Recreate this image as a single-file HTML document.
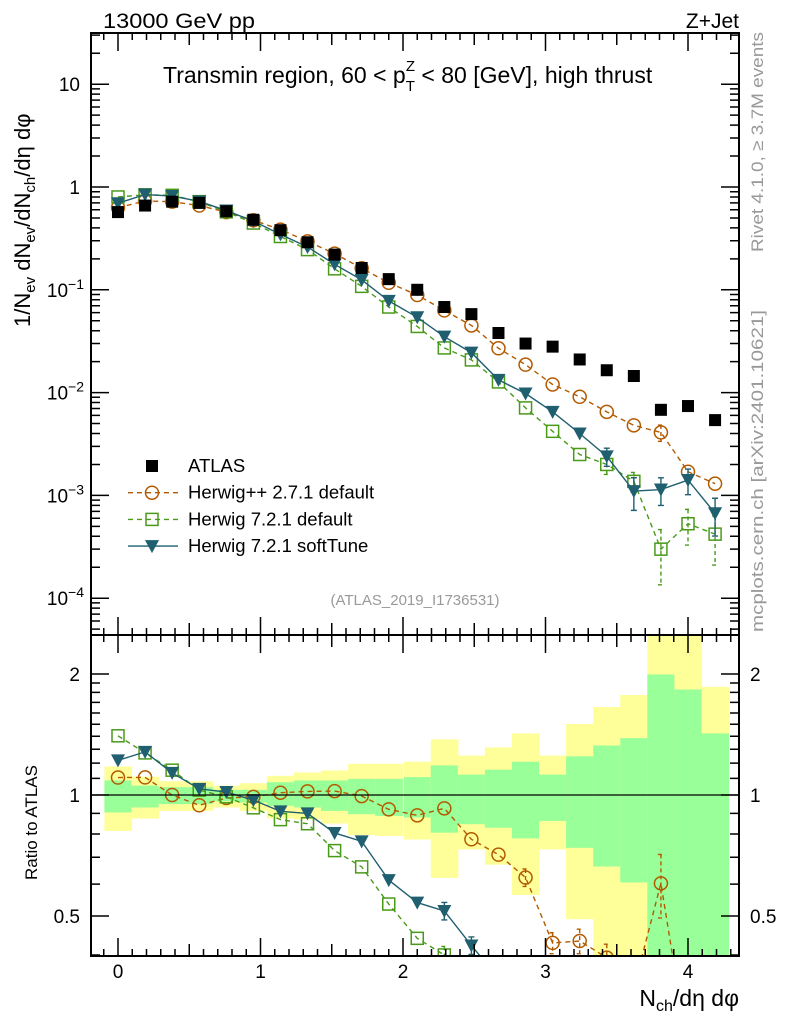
<!DOCTYPE html>
<html><head><meta charset="utf-8"><style>
html,body{margin:0;background:#fff;overflow:hidden;width:786px;height:1024px}
svg{display:block;font-family:"Liberation Sans",sans-serif}
</style></head><body>
<svg id="chart" width="786" height="1024" viewBox="0 0 786 1024" xmlns="http://www.w3.org/2000/svg">
<defs>
<clipPath id="clipMain"><rect x="91" y="33" width="648" height="602"/></clipPath>
<clipPath id="clipRatio"><rect x="91" y="635" width="648" height="321"/></clipPath>
</defs>
<g id="bands" clip-path="url(#clipRatio)"></g>
<g id="ratioMarks" clip-path="url(#clipRatio)"></g>
<g id="mainMarks" clip-path="url(#clipMain)"></g>
<g id="axes"></g>
<text x="103" y="28" font-size="21" textLength="152" lengthAdjust="spacingAndGlyphs">13000 GeV pp</text>
<text x="739" y="28" font-size="21" text-anchor="end">Z+Jet</text>
<text x="163" y="83" font-size="23">Transmin region, 60 &lt; p<tspan font-size="15" dy="8">T</tspan><tspan font-size="15" dx="-9" dy="-20">Z</tspan><tspan dy="12"> &lt; 80 [GeV], high thrust</tspan></text>
<text x="415" y="605" font-size="15" fill="#999" text-anchor="middle">(ATLAS_2019_I1736531)</text>
<text transform="translate(763,252) rotate(-90)" font-size="17" fill="#999" textLength="220" lengthAdjust="spacingAndGlyphs">Rivet 4.1.0, ≥ 3.7M events</text>
<text transform="translate(763,632) rotate(-90)" font-size="17" fill="#999" textLength="322" lengthAdjust="spacingAndGlyphs">mcplots.cern.ch [arXiv:2401.10621]</text>
<text transform="translate(30,327) rotate(-90)" font-size="22">1/N<tspan font-size="15" dy="5">ev</tspan><tspan dy="-5"> dN</tspan><tspan font-size="15" dy="5">ev</tspan><tspan dy="-5">/dN</tspan><tspan font-size="15" dy="5">ch</tspan><tspan dy="-5">/dη dφ</tspan></text>
<text transform="translate(37,880) rotate(-90)" font-size="17">Ratio to ATLAS</text>
<text x="739" y="1006" font-size="23" text-anchor="end">N<tspan font-size="16" dy="5">ch</tspan><tspan dy="-5">/dη dφ</tspan></text>
<g id="legend"></g>
</svg>
<script>
const xCenters=[0,0.19,0.38,0.57,0.76,0.95,1.14,1.33,1.52,1.71,1.9,2.1,2.29,2.48,2.67,2.86,3.05,3.24,3.43,3.62,3.81,4.0,4.19];
const binWidth=0.1907;
const atlas=[0.57,0.66,0.72,0.70,0.58,0.48,0.38,0.29,0.22,0.163,0.127,0.10,0.068,0.058,0.038,0.030,0.028,0.021,0.0165,0.0145,0.0068,0.0074,0.0054];
const herwigpp=[0.63,0.73,0.72,0.66,0.57,0.475,0.385,0.296,0.225,0.162,0.117,0.089,0.063,0.045,0.027,0.0187,0.0120,0.0091,0.0065,0.0048,0.0041,0.0017,0.0013];
const herwigppErr=[0.01,0.01,0.01,0.01,0.01,0.01,0.01,0.01,0.01,0.01,0.02,0.03,0.03,0.04,0.04,0.05,0.06,0.07,0.08,0.1,0.18,0.15,0.14];
const herwigDef=[0.80,0.84,0.83,0.72,0.574,0.446,0.33,0.246,0.16,0.108,0.068,0.044,0.0272,0.0208,0.0127,0.0071,0.0042,0.0025,0.0020,0.00137,0.00030,0.00053,0.00042];
const herwigDefErr=[0.01,0.01,0.01,0.01,0.01,0.01,0.01,0.01,0.02,0.02,0.03,0.04,0.05,0.05,0.06,0.08,0.1,0.15,0.2,0.22,0.55,0.38,0.5];
const softTune=[0.695,0.845,0.817,0.725,0.59,0.466,0.346,0.261,0.177,0.125,0.078,0.054,0.035,0.0245,0.0133,0.0098,0.0065,0.0040,0.0024,0.00110,0.00114,0.00141,0.00067];
const softTuneErr=[0.01,0.01,0.01,0.01,0.01,0.01,0.01,0.01,0.02,0.02,0.03,0.04,0.05,0.05,0.06,0.07,0.1,0.12,0.2,0.35,0.3,0.28,0.4];
const yelUp=[1.178,1.111,1.082,1.082,1.055,1.07,1.116,1.138,1.151,1.196,1.196,1.21,1.375,1.253,1.313,1.423,1.253,1.502,1.655,1.773,3,3,1.858];
const yelDn=[0.814,0.874,0.913,0.913,0.931,0.913,0.874,0.87,0.849,0.795,0.791,0.775,0.622,0.732,0.671,0.564,0.732,0.491,0.3,0.3,0.3,0.3,0.566];
const grnUp=[1.087,1.055,1.046,1.046,1.03,1.03,1.076,1.087,1.087,1.097,1.097,1.108,1.185,1.124,1.156,1.21,1.124,1.248,1.328,1.385,1.995,1.83,1.423];
const grnDn=[0.905,0.931,0.949,0.949,0.964,0.958,0.94,0.931,0.913,0.896,0.887,0.879,0.806,0.846,0.829,0.78,0.862,0.739,0.664,0.606,0.3,0.3,0.3];
const xTickLabels=["0","1","2","3","4"];
const mainTickExp=[1,0,-1,-2,-3,-4];
const ratioTickLabels=["0.5","1","2"];

const NS="http://www.w3.org/2000/svg";
const L=91,R=739,T=33,M=635,B=956;
const sx=v=>118+142.5*v;
const sy=v=>187-102.8*Math.log10(v);
const sr=v=>795-402*Math.log10(v);
function mk(tag,attrs,parent){const e=document.createElementNS(NS,tag);for(const k in attrs)e.setAttribute(k,attrs[k]);parent.appendChild(e);return e;}
const bands=document.getElementById('bands'),rm=document.getElementById('ratioMarks'),mm=document.getElementById('mainMarks'),ax=document.getElementById('axes'),lg=document.getElementById('legend');

xCenters.forEach((x,i)=>{
  const x0=sx(x-binWidth/2),x1=sx(x+binWidth/2);
  let r=mk('rect',{x:x0,y:sr(yelUp[i]),width:x1-x0+0.5,height:sr(yelDn[i])-sr(yelUp[i]),fill:'#ffff99'},bands);
  
  
  let g=mk('rect',{x:x0,y:sr(grnUp[i]),width:x1-x0+0.5,height:sr(grnDn[i])-sr(grnUp[i]),fill:'#99ff99'},bands);
  
  
});
let one=mk('line',{x1:L,x2:R,y1:sr(1),y2:sr(1),stroke:'#000','stroke-width':1.2},ax);



function marker(type,cx,cy,color,parent){
  let e;
  if(type==='sq') e=mk('rect',{x:cx-6,y:cy-6,width:12,height:12,fill:'#000'},parent);
  else if(type==='circ') e=mk('circle',{cx:cx,cy:cy,r:6.5,fill:'none',stroke:color,'stroke-width':1.5},parent);
  else if(type==='osq') e=mk('rect',{x:cx-6,y:cy-6,width:12,height:12,fill:'none',stroke:color,'stroke-width':1.5},parent);
  else e=mk('path',{d:`M${cx-7},${cy-6}L${cx+7},${cy-6}L${cx},${cy+7}Z`,fill:color},parent);
  return e;
}
const series=[
  {name:'herwigpp-2-7-1-default',vals:herwigpp,err:herwigppErr,color:'#b35a00',type:'circ',dash:'5,4'},
  {name:'herwig-7-2-1-default',vals:herwigDef,err:herwigDefErr,color:'#4a9a1a',type:'osq',dash:'5,4'},
  {name:'herwig-7-2-1-softtune',vals:softTune,err:softTuneErr,color:'#1f5f6f',type:'tri',dash:''}
];
series.forEach(s=>{
  [[mm,sy],[rm,sr]].forEach(([par,scale],pi)=>{
    const vals=s.vals.map((v,i)=>pi===0?v:v/atlas[i]);
    const pts=xCenters.map((x,i)=>sx(x)+','+scale(vals[i])).join(' ');
    let pl=mk('polyline',{points:pts,fill:'none',stroke:s.color,'stroke-width':1.4,'stroke-dasharray':s.dash},par);
    
    
    xCenters.forEach((x,i)=>{
      const v=vals[i],e=s.err[i];
      const y0=scale(v*(1+e)),y1=scale(Math.max(v*(1-e),1e-9));
      if(y1-y0>14){
        let eb=mk('path',{d:`M${sx(x)},${y0}L${sx(x)},${y1}M${sx(x)-3},${y0}L${sx(x)+3},${y0}M${sx(x)-3},${y1}L${sx(x)+3},${y1}`,stroke:s.color,'stroke-width':1.4,fill:'none','stroke-dasharray':s.dash?'4,3':''},par);
        
        
      }
      let m=marker(s.type,sx(x),scale(v),s.color,par);
      
      
    });
  });
});
atlas.forEach((v,i)=>{
  let m=marker('sq',sx(xCenters[i]),sy(v),'#000',mm);
  
  
});

[[T,M],[M,B]].forEach(([a,b])=>{
  let f=mk('rect',{x:L,y:a,width:R-L,height:b-a,fill:'none',stroke:'#000','stroke-width':2},ax);
  
  
});
let tk='';
for(let k=-1;k<=43;k++){const v=k/10,x=sx(v);if(x<L||x>R)continue;
  const len=(k%10===0)?18:(k%5===0?12:7);
  [T,M].forEach(y=>tk+=`M${x},${y}L${x},${y+len}`);
  [M,B].forEach(y=>tk+=`M${x},${y}L${x},${y-len}`);
}
for(let d=-5;d<=1;d++){for(let m=1;m<=9;m++){const v=m*Math.pow(10,d),y=sy(v);if(y<T||y>M)continue;
  const len=m===1?18:9;tk+=`M${L},${y}L${L+len},${y}M${R},${y}L${R-len},${y}`;}}
[0.4,0.5,0.6,0.7,0.8,0.9,1,1.1,1.2,1.3,1.4,1.5,1.6,1.7,1.8,1.9,2].forEach(v=>{const y=sr(v);const len=(v===0.5||v===1||v===2)?18:9;tk+=`M${L},${y}L${L+len},${y}M${R},${y}L${R-len},${y}`;});
let tp=mk('path',{d:tk,stroke:'#000','stroke-width':1.5,fill:'none'},ax);



xTickLabels.forEach((t,i)=>{let e=mk('text',{x:sx(+t),y:978,'font-size':19,'text-anchor':'middle'},ax);e.textContent=t;
  
  });
mainTickExp.forEach(p=>{const y=sy(Math.pow(10,p))+7;let e=mk('text',{x:80,y:y,'font-size':19,'text-anchor':'end'},ax);
  if(p===1)e.textContent='10';else if(p===0)e.textContent='1';else{e.textContent='10';let s=mk('tspan',{'font-size':14,dy:-8},e);s.textContent='−'+(-p);e.setAttribute('x',84);}
  
  });
ratioTickLabels.forEach(t=>{const y=sr(+t)+7;
  let a=mk('text',{x:80,y:y,'font-size':19,'text-anchor':'end'},ax);a.textContent=t;
  
  
  let b=mk('text',{x:750,y:y,'font-size':19},ax);b.textContent=t;
  
  });

const legItems=[['ATLAS','sq','#000',''],['Herwig++ 2.7.1 default','circ','#b35a00','5,4'],['Herwig 7.2.1 default','osq','#4a9a1a','5,4'],['Herwig 7.2.1 softTune','tri','#1f5f6f','']];
legItems.forEach((it,i)=>{const y=466+26.7*i;
  const g=mk('g',{},lg);
  
  
  if(i>0)mk('line',{x1:128,x2:178,y1:y,y2:y,stroke:it[2],'stroke-width':1.4,'stroke-dasharray':it[3]},g);
  marker(it[1],152,y,it[2],g);
  let t=mk('text',{x:188,y:y+6,'font-size':18.5},g);t.textContent=it[0];
});
</script>
</body></html>
